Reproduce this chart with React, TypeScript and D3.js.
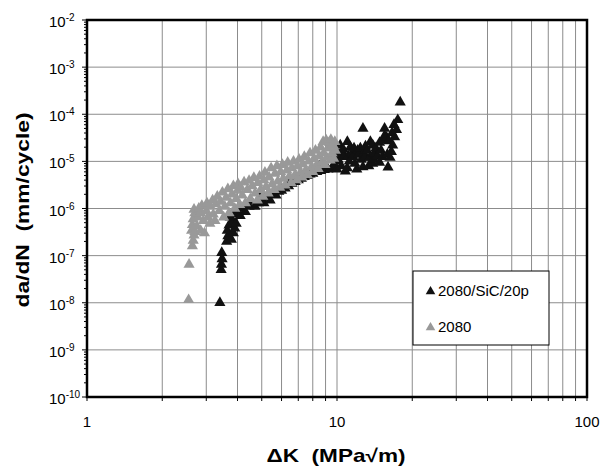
import React from "react";
import * as d3 from "d3";

// [ΔK (MPa√m), da/dN (mm/cycle)]
const compositePoints: [number, number][] = [
  [3.4, 1.0e-8], [3.44, 5e-8], [3.45, 6.5e-8], [3.47, 8.5e-8], [3.46, 1.15e-7],
  [3.62, 2e-7], [3.66, 2.6e-7], [3.64, 3.4e-7], [3.7, 4.4e-7], [3.78, 2.2e-7],
  [3.85, 3e-7], [3.9, 3.8e-7], [3.82, 5.5e-7], [3.74, 6.5e-7], [3.95, 4.8e-7],
  [3.88, 7.5e-7], [4.0, 9e-7], [4.1, 7e-7], [4.2, 1e-6], [4.3, 8.5e-7],
  [4.45, 1.1e-6], [4.55, 1.4e-6], [4.7, 1.1e-6], [4.85, 1.3e-6], [4.95, 1.6e-6],
  [5.0, 2.2e-6], [5.1, 1.3e-6], [5.25, 1.7e-6], [5.4, 1.5e-6], [5.55, 2e-6],
  [5.7, 1.9e-6], [5.85, 2.3e-6], [6.0, 2.4e-6], [6.2, 2.7e-6], [6.4, 3.0e-6],
  [6.5, 3.8e-6], [6.6, 3.4e-6], [6.8, 3.7e-6], [7.0, 4.0e-6], [7.2, 4.3e-6],
  [7.4, 4.7e-6], [7.6, 5.0e-6], [7.8, 5.3e-6], [8.0, 5.5e-6], [8.3, 6.0e-6],
  [8.5, 8e-6], [8.6, 6.3e-6], [8.9, 6.6e-6], [9.2, 6.8e-6], [9.5, 7.0e-6],
  [9.7, 8e-6], [9.9, 1e-5], [9.6, 1.3e-5], [9.8, 1.6e-5], [10.0, 6.8e-6],
  [10.1, 1.1e-5], [10.2, 1.4e-5], [10.3, 2.2e-5], [10.4, 8e-6], [10.5, 1.6e-5],
  [10.6, 1.25e-5], [10.6, 1.8e-5], [10.8, 6.2e-6], [11.0, 2.6e-5], [11.0, 7.2e-6],
  [11.1, 1.3e-5], [11.2, 1e-5], [11.3, 2e-5], [11.5, 1.5e-5], [11.6, 1.25e-5],
  [11.7, 1.9e-5], [11.8, 9e-6], [12.0, 6.8e-6], [12.1, 1.7e-5], [12.2, 1.4e-5],
  [12.4, 1.9e-5], [12.5, 1.1e-5], [12.7, 7.6e-6], [12.7, 5e-5], [12.8, 1.5e-5],
  [12.9, 1.2e-5], [13.0, 2.1e-5], [13.2, 1.7e-5], [13.4, 8e-6], [13.5, 1.2e-5],
  [13.6, 2.6e-5], [13.9, 2.2e-5], [13.9, 9e-6], [14.0, 1.1e-5], [14.1, 1.5e-5],
  [14.3, 1.9e-5], [14.5, 1.3e-5], [14.8, 2.5e-5], [14.8, 9.5e-6], [15.0, 1.7e-5],
  [15.2, 1.25e-5], [15.3, 2.8e-5], [15.5, 5e-5], [15.5, 3.5e-5], [15.8, 3.2e-5],
  [15.9, 1.4e-5], [16.1, 2.7e-5], [16.3, 1.2e-5], [16.0, 7.5e-6], [16.5, 1.6e-5],
  [16.6, 4e-5], [16.7, 2.2e-5], [17.0, 3.3e-5], [17.3, 4.7e-5], [17.5, 7.6e-5],
  [17.9, 1.8e-4], [16.9, 6e-5],
];

const basePoints: [number, number][] = [
  [2.55, 1.15e-8], [2.56, 6.5e-8], [2.64, 1.6e-7], [2.66, 2.1e-7], [2.68, 2.7e-7],
  [2.62, 3.4e-7], [2.7, 3.2e-7], [2.64, 4.5e-7], [2.66, 6e-7], [2.7, 8e-7],
  [2.68, 9.5e-7], [2.75, 4.2e-7], [2.78, 6.5e-7], [2.8, 1.0e-6], [2.85, 3.4e-7],
  [2.85, 8e-7], [2.88, 1.15e-6], [2.92, 5.5e-7], [2.95, 3.0e-7], [3.0, 9e-7],
  [3.02, 1.3e-6], [3.05, 6.5e-7], [3.1, 4.8e-7], [3.12, 1.1e-6], [3.18, 1.5e-6],
  [3.2, 7.5e-7], [3.25, 5.5e-7], [3.28, 1.25e-6], [3.32, 1.8e-6], [3.38, 9e-7],
  [3.42, 1.4e-6], [3.48, 2.2e-6], [3.52, 6.5e-7], [3.56, 1.1e-6], [3.6, 1.7e-6],
  [3.66, 2.6e-6], [3.7, 8e-7], [3.75, 1.3e-6], [3.8, 2e-6], [3.85, 3e-6],
  [3.9, 1.0e-6], [3.95, 1.6e-6], [4.0, 2.4e-6], [4.02, 3.3e-6], [4.08, 1.2e-6],
  [4.12, 2.8e-6], [4.18, 1.9e-6], [4.25, 3.6e-6], [4.3, 1.3e-6], [4.38, 2.5e-6],
  [4.45, 3.9e-6], [4.5, 1.6e-6], [4.58, 3e-6], [4.65, 4.5e-6], [4.7, 2.1e-6],
  [4.8, 1.5e-6], [4.82, 3.5e-6], [4.9, 4.8e-6], [4.95, 2.5e-6], [5.05, 1.8e-6],
  [5.1, 4e-6], [5.15, 5.8e-6], [5.2, 2.9e-6], [5.3, 2.1e-6], [5.35, 4.6e-6],
  [5.45, 7.2e-6], [5.5, 3.3e-6], [5.6, 2.5e-6], [5.65, 5.5e-6], [5.75, 8e-6],
  [5.8, 3.8e-6], [5.9, 2.8e-6], [5.95, 6e-6], [6.05, 8.5e-6], [6.1, 4.3e-6],
  [6.2, 3.1e-6], [6.3, 6.5e-6], [6.35, 9.5e-6], [6.45, 4.8e-6], [6.55, 3.5e-6],
  [6.6, 7.2e-6], [6.7, 1.0e-5], [6.8, 5.2e-6], [6.9, 4e-6], [6.95, 8e-6],
  [7.05, 1.1e-5], [7.15, 5.8e-6], [7.25, 4.6e-6], [7.3, 8.8e-6], [7.4, 1.25e-5],
  [7.5, 6.5e-6], [7.6, 5.2e-6], [7.7, 1e-5], [7.8, 1.5e-5], [7.9, 7.5e-6],
  [8.0, 6e-6], [8.1, 1.15e-5], [8.2, 1.7e-5], [8.3, 8.5e-6], [8.4, 7e-6],
  [8.5, 1.3e-5], [8.6, 2e-5], [8.7, 9.5e-6], [8.8, 2.6e-5], [8.85, 1.5e-5],
  [8.95, 8.5e-6], [9.05, 2.8e-5], [9.1, 1.2e-5], [9.2, 1.9e-5], [9.3, 2.5e-5],
  [9.4, 1.05e-5], [9.45, 2.9e-5], [9.55, 1.5e-5], [9.65, 2.2e-5], [9.7, 1.15e-5],
  [9.8, 2.6e-5], [9.85, 1.7e-5],
];

const seriesNames = ["2080/SiC/20p", "2080"];
const seriesColors = ["#111111", "#999999"];
const xTickLabels = ["1", "10", "100"];
const yExponents = [-2, -3, -4, -5, -6, -7, -8, -9, -10];

export default function App() {
  const svgRef = React.useRef<SVGSVGElement>(null);
  const width = 608;
  const height = 468;
  const margin = { left: 87, right: 21, top: 20, bottom: 71 };

  React.useEffect(() => {
    const innerW = width - margin.left - margin.right;
    const innerH = height - margin.top - margin.bottom;
    const font = "'Liberation Sans', Arial, sans-serif";

    const x = d3.scaleLog().domain([1, 100]).range([0, innerW]);
    const y = d3.scaleLog().domain([1e-10, 1e-2]).range([innerH, 0]);

    const svgEl = d3.select(svgRef.current);
    svgEl.selectAll("*").remove();
    const g = svgEl
      .append("g")
      .attr("transform", `translate(${margin.left},${margin.top})`);

    // grid lines
    g.append("g")
      .selectAll("line")
      .data(x.ticks())
      .enter()
      .append("line")
      .attr("x1", (d) => x(d))
      .attr("x2", (d) => x(d))
      .attr("y1", 0)
      .attr("y2", innerH)
      .attr("stroke", "#8c8c8c")
      .attr("stroke-width", 1);
    g.append("g")
      .selectAll("line")
      .data(yExponents.map((e) => Math.pow(10, e)))
      .enter()
      .append("line")
      .attr("x1", 0)
      .attr("x2", innerW)
      .attr("y1", (d) => y(d))
      .attr("y2", (d) => y(d))
      .attr("stroke", "#8c8c8c")
      .attr("stroke-width", 1);

    // ticks
    g.append("g")
      .selectAll("line")
      .data(x.ticks())
      .enter()
      .append("line")
      .attr("x1", (d) => x(d))
      .attr("x2", (d) => x(d))
      .attr("y1", innerH)
      .attr("y2", innerH + 4)
      .attr("stroke", "#000");
    g.append("g")
      .selectAll("line")
      .data(y.ticks())
      .enter()
      .append("line")
      .attr("x1", (d) => (Math.abs(Math.log10(d) - Math.round(Math.log10(d))) < 1e-6 ? -5 : -3))
      .attr("x2", 0)
      .attr("y1", (d) => y(d))
      .attr("y2", (d) => y(d))
      .attr("stroke", "#000");

    // points: composite first, base alloy on top
    const tri = d3.symbol().type(d3.symbolTriangle).size(54);
    [compositePoints, basePoints].forEach((pts, i) => {
      g.append("g")
        .selectAll("path")
        .data(pts)
        .enter()
        .append("path")
        .attr("d", tri)
        .attr("transform", (d) => `translate(${x(d[0])},${y(d[1])})`)
        .attr("fill", seriesColors[i]);
    });

    // frame
    g.append("rect")
      .attr("x", 0)
      .attr("y", 0)
      .attr("width", innerW)
      .attr("height", innerH)
      .attr("fill", "none")
      .attr("stroke", "#000")
      .attr("stroke-width", 2.5);

    // tick labels
    g.append("g")
      .selectAll("text")
      .data(xTickLabels)
      .enter()
      .append("text")
      .attr("x", (d) => x(+d))
      .attr("y", innerH + 30)
      .attr("text-anchor", "middle")
      .attr("font-family", font)
      .attr("font-size", 15)
      .text((d) => d);

    const yLab = g
      .append("g")
      .selectAll("text")
      .data(yExponents)
      .enter()
      .append("text")
      .attr("x", -38)
      .attr("y", (d) => y(Math.pow(10, d)) + 7)
      .attr("font-family", font)
      .attr("font-size", 15);
    yLab.append("tspan").text("10");
    yLab
      .append("tspan")
      .attr("dy", -6)
      .attr("font-size", 10)
      .text((d) => String(d));

    // axis titles
    svgEl
      .append("text")
      .attr("x", 336)
      .attr("y", 462)
      .attr("text-anchor", "middle")
      .attr("font-family", font)
      .attr("font-weight", "bold")
      .attr("font-size", 18.5)
      .attr("textLength", 139)
      .attr("lengthAdjust", "spacingAndGlyphs")
      .text("ΔK\u00a0\u00a0(MPa√m)");
    svgEl
      .append("text")
      .attr("transform", "translate(29,210) rotate(-90)")
      .attr("text-anchor", "middle")
      .attr("font-family", font)
      .attr("font-weight", "bold")
      .attr("font-size", 18.5)
      .attr("textLength", 195)
      .attr("lengthAdjust", "spacingAndGlyphs")
      .text("da/dN\u00a0\u00a0(mm/cycle)");

    // legend
    const leg = g.append("g").attr("transform", `translate(${413 - margin.left},${271 - margin.top})`);
    leg
      .append("rect")
      .attr("width", 136)
      .attr("height", 74)
      .attr("fill", "#fff")
      .attr("stroke", "#000")
      .attr("stroke-width", 1);
    seriesNames.forEach((name, i) => {
      const row = leg.append("g").attr("transform", `translate(0,${20 + i * 36})`);
      row
        .append("path")
        .attr("d", d3.symbol().type(d3.symbolTriangle).size(40))
        .attr("transform", "translate(17.5,0.5)")
        .attr("fill", seriesColors[i]);
      row
        .append("text")
        .attr("x", 25)
        .attr("y", 5)
        .attr("font-family", font)
        .attr("font-size", 15)
        .text(name);
    });
  }, []);

  return (
    <svg
      ref={svgRef}
      width={width}
      height={height}
      style={{ position: "absolute", left: 0, top: 0, background: "#fff" }}
    />
  );
}
